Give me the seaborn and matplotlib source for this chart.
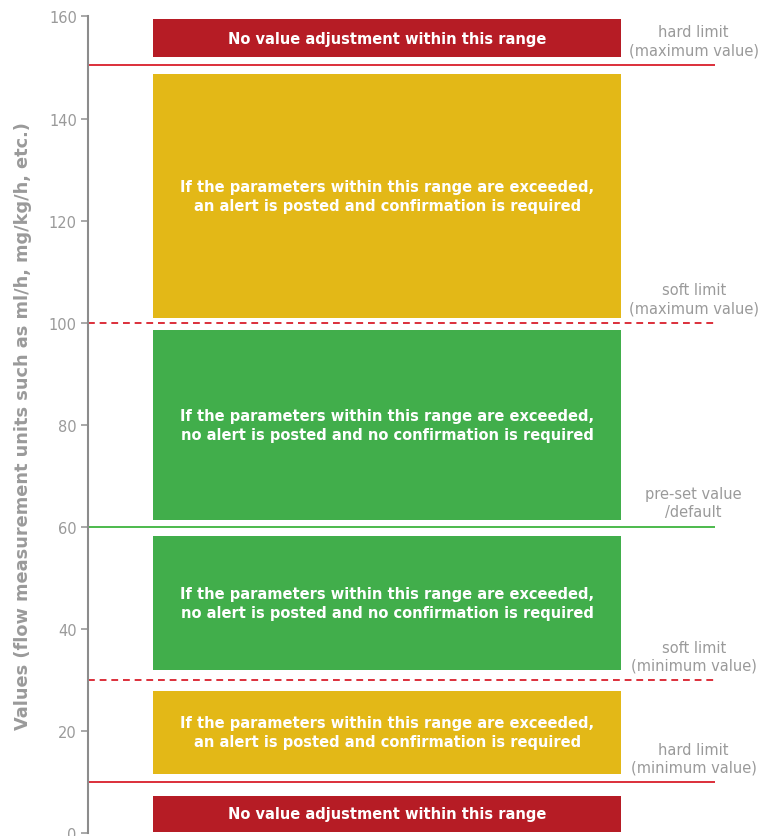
import pandas as pd
import matplotlib.pyplot as plt
import matplotlib.transforms as mtransforms
import seaborn as sns

# zones (floating bars)
zone_low = [0.3, 11.6, 32.0, 61.3, 101.0, 152.0]
zone_high = [7.4, 28.0, 58.2, 98.6, 148.7, 159.5]
zone_kind = ['hard', 'soft', 'ok', 'ok', 'soft', 'hard']
zone_text = [
    'No value adjustment within this range',
    'If the parameters within this range are exceeded,\nan alert is posted and confirmation is required',
    'If the parameters within this range are exceeded,\nno alert is posted and no confirmation is required',
    'If the parameters within this range are exceeded,\nno alert is posted and no confirmation is required',
    'If the parameters within this range are exceeded,\nan alert is posted and confirmation is required',
    'No value adjustment within this range',
]

# limit lines
limit_values = [10, 30, 60, 100, 150.5]
limit_kind = ['hard', 'soft', 'preset', 'soft', 'hard']
limit_labels = [
    'hard limit\n(minimum value)',
    'soft limit\n(minimum value)',
    'pre-set value\n/default',
    'soft limit\n(maximum value)',
    'hard limit\n(maximum value)',
]

y_ticks = [0, 20, 40, 60, 80, 100, 120, 140, 160]

bar_colors = {'hard': '#B61C25', 'soft': '#E3B817', 'ok': '#41AE4B'}
line_styles = {
    'hard': dict(color='#DC2F3A', linestyle='-', linewidth=1.4),
    'soft': dict(color='#DC2F3A', linestyle=(0, (3.5, 2.5)), linewidth=1.4),
    'preset': dict(color='#4CBA4C', linestyle='-', linewidth=1.4),
}

sns.set_theme(style='white')
plt.rcParams['font.family'] = ['DejaVu Sans']

fig = plt.figure(figsize=(7.61, 8.37), dpi=100)
ax = fig.add_axes([0.1156, 0.0030, 0.8240, 0.9761])

df = pd.DataFrame({'zone': ['range'] * len(zone_low),
                   'low': zone_low, 'high': zone_high, 'kind': zone_kind})
df['height'] = df['high'] - df['low']

for i, row in df.iterrows():
    sns.barplot(x=[row['zone']], y=[row['height']], bottom=row['low'],
                color=bar_colors[row['kind']], saturation=1, width=0.8,
                ax=ax, edgecolor='none', linewidth=0)
    ax.text(0, (row['low'] + row['high']) / 2, zone_text[i], color='white',
            fontsize=10.5, fontweight='bold', ha='center', va='center',
            linespacing=1.35)

for val, kind in zip(limit_values, limit_kind):
    ax.axhline(val, **line_styles[kind])

trans = mtransforms.blended_transform_factory(ax.transAxes, ax.transData)
for val, lab in zip(limit_values, limit_labels):
    ax.text(0.966, val + 1.5, lab, transform=trans, ha='center', va='bottom',
            color='#9A9A9A', fontsize=10.5, linespacing=1.25, clip_on=False)

ax.set_xlim(-0.5115, 0.5605)
ax.set_ylim(0, 160)
ax.set_yticks(y_ticks)
ax.set_xticks([])
ax.set_xlabel('')
ax.set_ylabel('Values (flow measurement units such as ml/h, mg/kg/h, etc.)',
              color='#9A9A9A', fontsize=12.8, fontweight='bold', labelpad=12)
ax.tick_params(axis='y', colors='#9A9A9A', labelsize=10.5, left=True,
               length=5, width=1.2, pad=3)
for s in ['top', 'right', 'bottom']:
    ax.spines[s].set_visible(False)
ax.spines['left'].set_color('#8C8C8C')
ax.spines['left'].set_linewidth(1.5)
ax.spines['left'].set_clip_on(False)

plt.savefig('out.png', dpi=100)
